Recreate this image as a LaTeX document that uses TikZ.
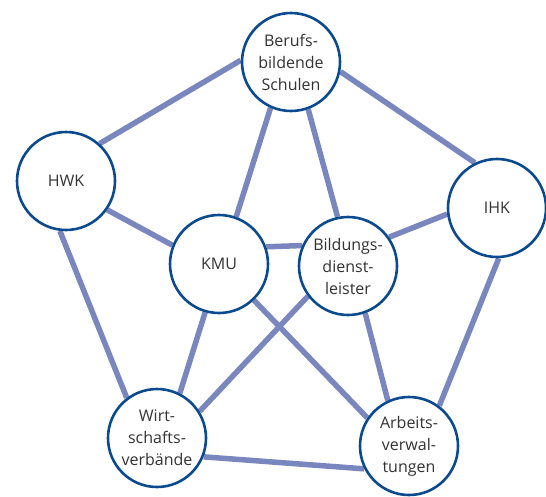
\documentclass[tikz,border=0pt]{standalone}
\usepackage{fontspec}
\setmainfont{Open Sans}
\usetikzlibrary{backgrounds}
\definecolor{ringblue}{HTML}{0B4A8F}
\definecolor{linkblue}{HTML}{7A87BE}
\definecolor{textgrey}{HTML}{333333}

\begin{document}
\begin{tikzpicture}[
  x=1pt, y=-1pt,
  actor/.style={circle, draw=ringblue, line width=2.6pt, fill=white,
    minimum size=98pt, inner sep=0pt, align=center, text=textgrey,
    font=\fontsize{16}{22}\selectfont},
  link/.style={draw=linkblue, line width=5.5pt},
]
  \useasboundingbox (0,0) rectangle (546,496);
  \node[actor] (bbs) at (291,62) {Berufs-\\bildende\\Schulen};
  \node[actor] (hwk) at (66,181) {HWK};
  \node[actor] (ihk) at (497,208) {IHK};
  \node[actor] (kmu) at (219,264) {KMU};
  \node[actor] (bild) at (348,266) {Bildungs-\\dienst-\\leister};
  \node[actor] (wirt) at (157,438) {Wirt-\\schafts-\\verbände};
  \node[actor] (arb) at (409,446) {Arbeits-\\verwal-\\tungen};
  \begin{scope}[on background layer]
    \draw[link] (bbs.178) -- (hwk.48);
    \draw[link] (bbs.-11) -- (ihk.116);
    \draw[link] (bbs.246) -- (kmu.70);
    \draw[link] (bbs.-70) -- (bild.102);
    \draw[link] (hwk.-35) -- (kmu.158);
    \draw[link] (hwk.263) -- (wirt.127);
    \draw[link] (kmu.20) -- (bild.156);
    \draw[link] (ihk.187) -- (bild.35);
    \draw[link] (ihk.-88) -- (arb.53);
    \draw[link] (kmu.254) -- (wirt.63);
    \draw[link] (kmu.-46) -- (arb.146);
    \draw[link] (bild.217) -- (wirt.32);
    \draw[link] (bild.-70) -- (arb.115);
    \draw[link] (wirt.-22) -- (arb.207);
  \end{scope}
\end{tikzpicture}
\end{document}
